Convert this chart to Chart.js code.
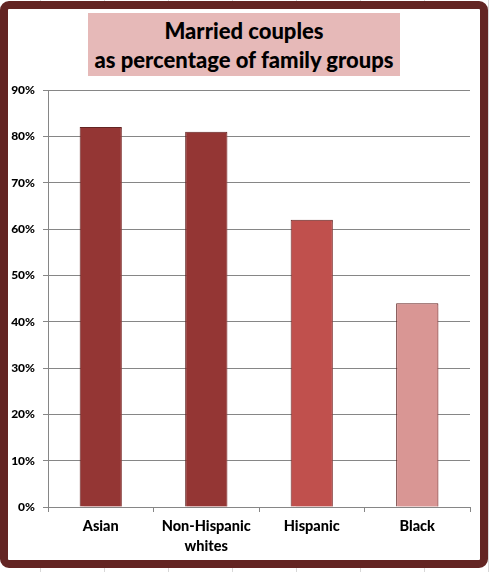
<!DOCTYPE html>
<html lang="en">
<head>
    <meta charset="UTF-8">
    <title>Married couples as percentage of family groups</title>
    <script src="https://cdn.jsdelivr.net/npm/chart.js"></script>
    <style>
        body, html {
            margin: 0;
            padding: 0;
            width: 489px;
            height: 572px;
            overflow: hidden;
            background: #fff repeating-linear-gradient(90deg, transparent 0 40px, #d8d8d8 40px 41px, transparent 41px 64px);
            font-family: Lato, Arial, sans-serif;
        }
        .frame {
            position: absolute;
            left: 0; top: 1px;
            width: 488px; height: 567px;
            box-sizing: border-box;
            border: 8px solid #632523;
            border-radius: 9px;
            background: #fff;
        }
        .title {
            position: absolute;
            left: 88px; top: 13px;
            width: 312px; height: 63px;
            background: #E6B9B8;
            text-align: center;
            font-weight: 900;
            font-size: 22px;
            line-height: 29px;
            padding-top: 3px;
            box-sizing: border-box;
            color: #000;
            z-index: 2;
        }
        canvas { position: absolute; left: 0; top: 0; z-index: 1; }
    </style>
</head>
<body>
    <div class="frame"></div>
    <div class="title">Married couples<br>as percentage of family groups</div>
    <canvas id="chart" width="489" height="572"></canvas>

    <script>
        const groups = ["Asian", ["Non-Hispanic", "whites"], "Hispanic", "Black"];
        const percentMarried = [82, 81, 62, 44];
        const barColors = ['#943634', '#943634', '#C0504D', '#D99694'];

        const barShadow = {
            id: 'barShadow',
            beforeDatasetsDraw(chart) {
                const c = chart.ctx;
                c.save();
                c.shadowColor = 'rgba(190, 110, 110, 0.45)';
                c.shadowOffsetX = 2;
                c.shadowOffsetY = 1;
                c.shadowBlur = 1;
            },
            afterDatasetsDraw(chart) { chart.ctx.restore(); }
        };

        new Chart(document.getElementById('chart').getContext('2d'), {
            type: 'bar',
            data: {
                labels: groups,
                datasets: [{
                    data: percentMarried,
                    backgroundColor: barColors,
                    borderColor: '#632523',
                    borderWidth: 1,
                    barPercentage: 0.8,
                    categoryPercentage: 0.5
                }]
            },
            options: {
                responsive: false,
                animation: false,
                layout: { padding: { left: 0, right: 19, top: 90, bottom: 0 } },
                plugins: { legend: { display: false }, tooltip: { enabled: false } },
                scales: {
                    x: {
                        afterFit: s => { s.height = 65; },
                        grid: { drawOnChartArea: false, drawTicks: true, tickLength: 5, color: '#868686' },
                        border: { color: '#868686' },
                        ticks: { color: '#000', padding: 5, font: { family: 'Lato', weight: '900', size: 14.5, lineHeight: 1.35 } }
                    },
                    y: {
                        min: 0, max: 90,
                        afterFit: s => { s.width = 48; },
                        grid: { color: '#868686', tickLength: 5 },
                        border: { color: '#868686' },
                        ticks: {
                            stepSize: 10,
                            color: '#000',
                            padding: 8,
                            font: { family: 'Lato', weight: '900', size: 12 },
                            callback: v => v + '%'
                        }
                    }
                }
            },
            plugins: [barShadow]
        });
    </script>
</body>
</html>
